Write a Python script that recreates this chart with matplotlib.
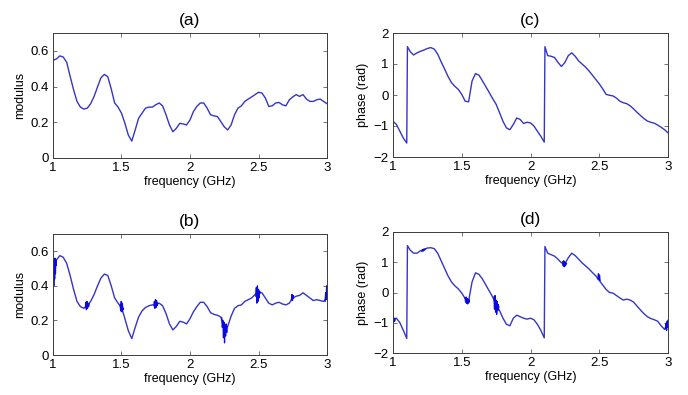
import numpy as np
import matplotlib
matplotlib.use("Agg")
import matplotlib.pyplot as plt

plt.rcParams['font.family'] = ['Liberation Sans', 'DejaVu Sans']

# frequency sampling (GHz)
FREQ = np.round(np.linspace(1.0, 3.0, 81), 3)

# (a) modulus, reference response
mod_a = [0.547, 0.555, 0.572, 0.565, 0.536, 0.458, 0.383, 0.317, 0.285, 0.274,
         0.279, 0.304, 0.345, 0.398, 0.449, 0.468, 0.455, 0.387, 0.308, 0.285,
         0.251, 0.194, 0.128, 0.095, 0.157, 0.223, 0.251, 0.279, 0.285, 0.285,
         0.298, 0.308, 0.292, 0.242, 0.185, 0.147, 0.166, 0.194, 0.191, 0.185,
         0.213, 0.260, 0.289, 0.308, 0.308, 0.279, 0.242, 0.236, 0.232, 0.204,
         0.175, 0.157, 0.185, 0.242, 0.279, 0.292, 0.317, 0.330, 0.342, 0.355,
         0.368, 0.364, 0.336, 0.289, 0.292, 0.308, 0.311, 0.298, 0.292, 0.326,
         0.342, 0.355, 0.345, 0.355, 0.330, 0.317, 0.317, 0.326, 0.330, 0.317,
         0.304]

# (b) modulus, measured response
mod_b = [0.500, 0.550, 0.575, 0.565, 0.530, 0.460, 0.380, 0.310, 0.280, 0.270,
         0.285, 0.310, 0.350, 0.400, 0.445, 0.468, 0.460, 0.400, 0.330, 0.300,
         0.275, 0.210, 0.140, 0.095, 0.160, 0.220, 0.255, 0.275, 0.285, 0.290,
         0.290, 0.300, 0.285, 0.240, 0.180, 0.145, 0.165, 0.195, 0.190, 0.180,
         0.210, 0.250, 0.280, 0.305, 0.305, 0.280, 0.245, 0.235, 0.230, 0.220,
         0.150, 0.165, 0.225, 0.270, 0.285, 0.290, 0.310, 0.320, 0.330, 0.350,
         0.360, 0.360, 0.330, 0.300, 0.290, 0.300, 0.305, 0.295, 0.290, 0.300,
         0.330, 0.340, 0.345, 0.360, 0.345, 0.330, 0.315, 0.320, 0.315, 0.310,
         0.330]

# noisy stretches of the measured modulus
mod_b_noise = [
    ([1.000, 1.003, 1.006, 1.009, 1.012, 1.015, 1.018, 1.021, 1.024],
     [0.36, 0.54, 0.40, 0.55, 0.44, 0.56, 0.47, 0.55, 0.52]),
    ([1.236, 1.240, 1.244, 1.248, 1.252, 1.256, 1.260, 1.264],
     [0.275, 0.305, 0.262, 0.310, 0.270, 0.300, 0.280, 0.295]),
    ([1.490, 1.494, 1.498, 1.502, 1.506, 1.510, 1.514],
     [0.290, 0.255, 0.310, 0.250, 0.300, 0.260, 0.270]),
    ([1.736, 1.740, 1.744, 1.748, 1.752, 1.756, 1.760, 1.764],
     [0.285, 0.310, 0.270, 0.320, 0.275, 0.315, 0.285, 0.300]),
    ([2.232, 2.236, 2.240, 2.244, 2.248, 2.252, 2.256, 2.260, 2.264, 2.268, 2.272],
     [0.215, 0.160, 0.200, 0.100, 0.190, 0.070, 0.170, 0.110, 0.180, 0.130, 0.165]),
    ([2.480, 2.484, 2.488, 2.492, 2.496, 2.500, 2.504, 2.508, 2.512],
     [0.340, 0.390, 0.300, 0.400, 0.310, 0.380, 0.330, 0.370, 0.360]),
    ([2.740, 2.744, 2.748, 2.752, 2.756],
     [0.320, 0.350, 0.315, 0.345, 0.330]),
    ([2.986, 2.990, 2.994, 2.997, 3.000],
     [0.310, 0.360, 0.320, 0.400, 0.330]),
]

# phase wraps from -pi/2 to +pi/2 at these frequencies (GHz)
WRAP_FREQ = [1.105, 2.105]

# (c) phase, reference response (wrap values included at WRAP_FREQ)
phase_c = [-0.85, -0.95, -1.17, -1.39, -1.55,
           1.56,
           1.40, 1.29, 1.36, 1.41, 1.45, 1.50, 1.53, 1.48, 1.32, 1.07,
           0.84, 0.60, 0.40, 0.28, 0.18, 0.02, -0.20, -0.22, 0.45, 0.69,
           0.64, 0.46, 0.27, 0.08, -0.12, -0.30, -0.57, -0.85, -1.06, -1.12,
           -0.95, -0.74, -0.79, -0.92, -0.88, -0.90, -1.00, -1.17, -1.33, -1.52,
           1.56,
           1.27, 1.25, 1.21, 1.05, 0.92, 1.05, 1.27, 1.36, 1.25, 1.10,
           1.00, 0.90, 0.78, 0.64, 0.50, 0.36, 0.20, 0.02, -0.01, -0.03,
           -0.10, -0.20, -0.25, -0.28, -0.35, -0.45, -0.56, -0.66, -0.76, -0.84,
           -0.88, -0.91, -0.97, -1.04, -1.12, -1.22]

# (d) phase, measured response (wrap values included at WRAP_FREQ)
phase_d = [-0.90, -0.85, -1.00, -1.25, -1.52,
           1.55,
           1.40, 1.30, 1.30, 1.38, 1.42, 1.47, 1.48, 1.45, 1.30, 1.05,
           0.80, 0.55, 0.35, 0.22, 0.12, -0.02, -0.20, -0.28, 0.35, 0.65,
           0.60, 0.45, 0.25, 0.05, -0.15, -0.40, -0.60, -0.85, -1.05, -1.10,
           -0.85, -0.75, -0.80, -0.85, -0.88, -0.85, -0.90, -1.05, -1.25, -1.50,
           1.52,
           1.30, 1.25, 1.20, 1.10, 0.98, 0.95, 1.15, 1.30, 1.22, 1.10,
           0.98, 0.88, 0.78, 0.66, 0.55, 0.40, 0.25, 0.10, 0.00, -0.02,
           -0.10, -0.18, -0.25, -0.22, -0.25, -0.32, -0.45, -0.58, -0.70, -0.80,
           -0.86, -0.90, -0.95, -1.10, -1.22, -0.95]

# noisy stretches of the measured phase
phase_d_noise = [
    ([1.000, 1.004, 1.008, 1.012, 1.016],
     [-0.80, -0.98, -0.85, -0.95, -0.86]),
    ([1.210, 1.215, 1.220, 1.225, 1.230, 1.235],
     [1.36, 1.42, 1.37, 1.44, 1.40, 1.44]),
    ([1.524, 1.528, 1.532, 1.536, 1.540, 1.544, 1.548, 1.552, 1.556],
     [-0.18, -0.32, -0.15, -0.36, -0.20, -0.38, -0.22, -0.33, -0.25]),
    ([1.734, 1.738, 1.742, 1.746, 1.750, 1.754, 1.758, 1.762, 1.766, 1.770],
     [-0.15, -0.55, -0.10, -0.65, -0.25, -0.72, -0.30, -0.60, -0.40, -0.50]),
    ([2.234, 2.238, 2.242, 2.246, 2.250, 2.254, 2.258, 2.262],
     [1.02, 0.88, 1.05, 0.85, 1.00, 0.88, 0.98, 0.95]),
    ([2.490, 2.494, 2.498, 2.502, 2.506],
     [0.45, 0.62, 0.42, 0.58, 0.40]),
    ([2.982, 2.986, 2.990, 2.994, 2.997, 3.000],
     [-1.20, -1.02, -1.25, -0.95, -1.15, -0.92]),
]

X_TICKS = [1, 1.5, 2, 2.5, 3]
X_TICKLABELS = ['1', '1.5', '2', '2.5', '3']
MOD_TICKS = [0, 0.2, 0.4, 0.6]
MOD_TICKLABELS = ['0', '0.2', '0.4', '0.6']
PHASE_TICKS = [-2, -1, 0, 1, 2]
PHASE_TICKLABELS = ['\u22122', '\u22121', '0', '1', '2']

LINE = '#3535c8'
NOISE = '#0a0ae0'
FRAME = '#3c3c3c'


def phase_freq():
    # insert the wrap frequencies into the regular sampling
    idx = [int(np.searchsorted(FREQ, f)) for f in WRAP_FREQ]
    return np.insert(FREQ, idx, WRAP_FREQ)


def style(ax, title, ylabel, yticks, yticklabels, ylim):
    ax.set_xlim(1, 3)
    ax.set_ylim(*ylim)
    ax.set_xticks(X_TICKS)
    ax.set_xticklabels(X_TICKLABELS)
    ax.set_yticks(yticks)
    ax.set_yticklabels(yticklabels)
    ax.tick_params(direction='in', length=3, width=0.5, color=FRAME,
                   labelsize=9.5, top=True, right=True, pad=3)
    for s in ax.spines.values():
        s.set_color(FRAME)
        s.set_linewidth(0.7)
    ax.set_title(title, fontsize=12.5, pad=6)
    ax.set_xlabel('frequency (GHz)', fontsize=9, labelpad=1)
    ax.set_ylabel(ylabel, fontsize=9, labelpad=3)


fig = plt.figure(figsize=(6.88, 3.95), dpi=100)
W, H = 688, 395


def add_axes(left, top, right, bottom):
    return fig.add_axes([left / W, 1 - bottom / H, (right - left) / W, (bottom - top) / H])


ax_a = add_axes(53, 33, 327, 158)
ax_c = add_axes(393, 33, 668, 157)
ax_b = add_axes(53, 234, 327, 355)
ax_d = add_axes(393, 232, 668, 353)

pf = phase_freq()

ax_a.plot(FREQ, mod_a, color=LINE, lw=1.0)
style(ax_a, '(a)', 'modulus', MOD_TICKS, MOD_TICKLABELS, (0, 0.7))

ax_b.plot(FREQ, mod_b, color=LINE, lw=1.0)
for f, v in mod_b_noise:
    ax_b.plot(f, v, color=NOISE, lw=0.9)
style(ax_b, '(b)', 'modulus', MOD_TICKS, MOD_TICKLABELS, (0, 0.7))

ax_c.plot(pf, phase_c, color=LINE, lw=1.0)
style(ax_c, '(c)', 'phase (rad)', PHASE_TICKS, PHASE_TICKLABELS, (-2, 2))

ax_d.plot(pf, phase_d, color=LINE, lw=1.0)
for f, v in phase_d_noise:
    ax_d.plot(f, v, color=NOISE, lw=0.9)
style(ax_d, '(d)', 'phase (rad)', PHASE_TICKS, PHASE_TICKLABELS, (-2, 2))

fig.savefig('out.png', dpi=100, facecolor='white')
